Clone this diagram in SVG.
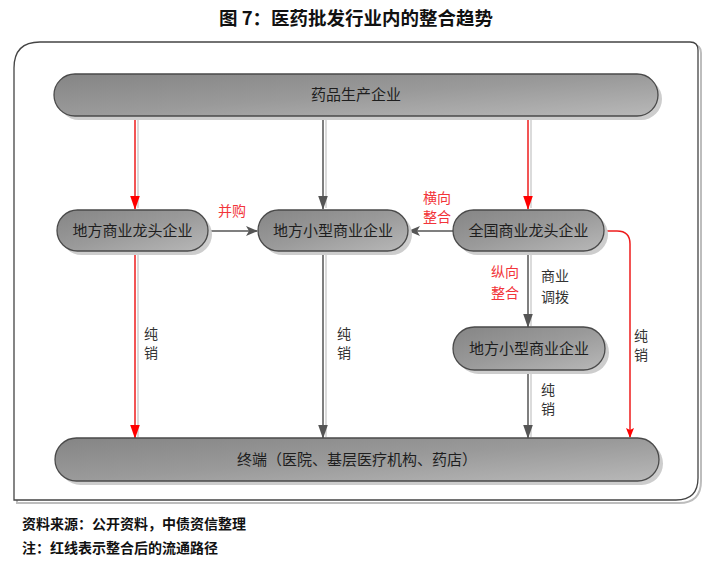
<svg xmlns="http://www.w3.org/2000/svg" width="714" height="561" viewBox="0 0 714 561">
<style>
.node{fill:url(#g);stroke:#4a4a4a;stroke-width:1.3}
.sh{fill:#cdcdcd}
.nt{font-family:"Noto Sans CJK SC",sans-serif;font-size:15px;fill:#1e1e1e;text-anchor:middle}
.lbl{font-family:"Noto Sans CJK SC",sans-serif;font-size:14px;fill:#333;text-anchor:middle}
.red{fill:#f2343a}
.lg{stroke:#555;stroke-width:1.5;fill:none}
.lr{stroke:#ee1c1c;stroke-width:1.5;fill:none}
.lsh{stroke:#cfcfcf;stroke-width:1.5;fill:none}
.foot{font-family:"Noto Sans CJK SC",sans-serif;font-size:14px;font-weight:bold;fill:#111}
</style>
<defs>
<linearGradient id="g" x1="0" y1="0" x2="1" y2="1">
<stop offset="0" stop-color="#858585"/>
<stop offset="0.5" stop-color="#9a9a9a"/>
<stop offset="1" stop-color="#b8b8b8"/>
</linearGradient>
<marker id="ag" markerUnits="userSpaceOnUse" markerWidth="14" markerHeight="20" refX="19" refY="7" orient="auto" viewBox="0 0 20 14"><path d="M0,0 L20,7 L0,14 z" fill="#555"/></marker>
<marker id="ar" markerUnits="userSpaceOnUse" markerWidth="14" markerHeight="20" refX="19" refY="7" orient="auto" viewBox="0 0 20 14"><path d="M0,0 L20,7 L0,14 z" fill="#f00"/></marker>
<marker id="ags" markerUnits="userSpaceOnUse" markerWidth="12" markerHeight="12" refX="11" refY="5" orient="auto" viewBox="0 0 12 10"><path d="M0,0 L12,5 L0,10 L3,5 z" fill="#555"/></marker>
<marker id="ars" markerUnits="userSpaceOnUse" markerWidth="10" markerHeight="10" refX="9" refY="4" orient="auto" viewBox="0 0 10 8"><path d="M0,0 L10,4 L0,8 L2,4 z" fill="#f00"/></marker>
</defs>
<rect width="714" height="561" fill="#fff"/>
<text x="356" y="25" text-anchor="middle" font-family="Noto Sans CJK SC,sans-serif" font-size="18.5" font-weight="bold" fill="#111">图 7：医药批发行业内的整合趋势</text>
<g id="frame">
<path d="M17,503 L17,72 Q17,45 44,45 L693,45 Q701,45 701,53 L701,481 Q701,503 679,503 Z" fill="none" stroke="#bdbdbd" stroke-width="2"/>
<path d="M14,500 L14,68 Q14,42 40,42 L690,42 Q698,42 698,50 L698,478 Q698,500 676,500 Z" fill="#fff" stroke="#444" stroke-width="1.3"/>
</g>
<g id="connectors">
<line class="lsh" x1="138" y1="116" x2="138" y2="208"/>
<line class="lsh" x1="326" y1="116" x2="326" y2="208"/>
<line class="lsh" x1="531" y1="116" x2="531" y2="208"/>
<line class="lsh" x1="138" y1="251" x2="138" y2="437"/>
<line class="lsh" x1="326" y1="251" x2="326" y2="437"/>
<line class="lsh" x1="531" y1="252" x2="531" y2="326"/>
<line class="lsh" x1="531" y1="370" x2="531" y2="437"/>
<line class="lr" x1="135" y1="116" x2="135" y2="209" marker-end="url(#ar)"/>
<line class="lg" x1="323" y1="116" x2="323" y2="209" marker-end="url(#ag)"/>
<line class="lr" x1="528" y1="116" x2="528" y2="209" marker-end="url(#ar)"/>
<line class="lg" x1="208" y1="231" x2="257" y2="231" marker-end="url(#ags)"/>
<line class="lg" x1="453" y1="231" x2="409" y2="231" marker-end="url(#ags)"/>
<line class="lg" x1="528" y1="252" x2="528" y2="327" marker-end="url(#ag)"/>
<line class="lr" x1="135" y1="251" x2="135" y2="438" marker-end="url(#ar)"/>
<line class="lg" x1="323" y1="251" x2="323" y2="438" marker-end="url(#ag)"/>
<line class="lg" x1="528" y1="370" x2="528" y2="438" marker-end="url(#ag)"/>
<path class="lr" d="M604,231 H617 Q630,231 630,244 V437" marker-end="url(#ars)"/>
<text class="lbl red" x="232" y="216">并购</text>
<text class="lbl red" x="437" y="203">横向</text>
<text class="lbl red" x="437" y="222">整合</text>
<text class="lbl red" x="505" y="277">纵向</text>
<text class="lbl red" x="505" y="298">整合</text>
<text class="lbl" x="555" y="281">商业</text>
<text class="lbl" x="555" y="302">调拨</text>
<text class="lbl" x="151" y="339">纯</text>
<text class="lbl" x="151" y="358">销</text>
<text class="lbl" x="344" y="339">纯</text>
<text class="lbl" x="344" y="358">销</text>
<text class="lbl" x="548" y="395">纯</text>
<text class="lbl" x="548" y="414">销</text>
<text class="lbl" x="641" y="341">纯</text>
<text class="lbl" x="641" y="360">销</text>
</g>
<g id="n-top">
<rect class="sh" x="58" y="78" width="604" height="42" rx="21"/>
<rect class="node" x="54" y="74" width="604" height="42" rx="21"/>
<text class="nt" x="356" y="100">药品生产企业</text>
</g>
<g id="n-local-leader">
<rect class="sh" x="61" y="214" width="151" height="41" rx="20.5"/>
<rect class="node" x="57" y="210" width="151" height="41" rx="20.5"/>
<text class="nt" x="132.5" y="236">地方商业龙头企业</text>
</g>
<g id="n-local-small">
<rect class="sh" x="262" y="214" width="150" height="41" rx="20.5"/>
<rect class="node" x="258" y="210" width="150" height="41" rx="20.5"/>
<text class="nt" x="333" y="236">地方小型商业企业</text>
</g>
<g id="n-national">
<rect class="sh" x="457" y="214" width="151" height="41" rx="20.5"/>
<rect class="node" x="453" y="210" width="151" height="41" rx="20.5"/>
<text class="nt" x="528.5" y="236">全国商业龙头企业</text>
</g>
<g id="n-local-small-2">
<rect class="sh" x="457" y="331" width="152" height="43" rx="21.5"/>
<rect class="node" x="453" y="327" width="152" height="43" rx="21.5"/>
<text class="nt" x="529" y="354">地方小型商业企业</text>
</g>
<g id="n-terminal">
<rect class="sh" x="59" y="442" width="604" height="43" rx="21.5"/>
<rect class="node" x="55" y="438" width="604" height="43" rx="21.5"/>
<text class="nt" x="357" y="465">终端（医院、基层医疗机构、药店）</text>
</g>
<text class="foot" x="22" y="529">资料来源：公开资料，中债资信整理</text>
<text class="foot" x="22" y="553">注：红线表示整合后的流通路径</text>
</svg>
